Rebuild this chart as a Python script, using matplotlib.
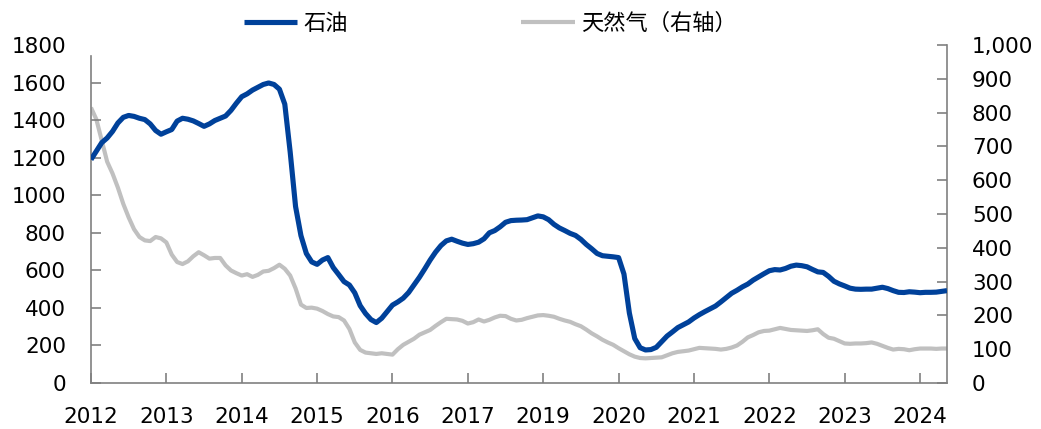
import numpy as np
import matplotlib
matplotlib.use("Agg")
import matplotlib.pyplot as plt
from matplotlib.ticker import FuncFormatter

## monthly rig counts, Jan 2012 onwards

oil = [1190, 1235, 1280, 1305, 1340, 1385, 1415, 1425, 1420, 1410,
       1403, 1380, 1345, 1325, 1338, 1350, 1395, 1410, 1405, 1396,
       1382, 1367, 1380, 1398, 1410, 1422, 1452, 1490, 1525, 1540,
       1560, 1575, 1590, 1598, 1590, 1565, 1485, 1230, 940, 785,
       690, 645, 632, 655, 668, 615, 578, 540, 522, 480,
       412, 370, 338, 322, 345, 380, 415, 432, 452, 482,
       522, 563, 608, 655, 697, 732, 757, 766, 755, 745,
       738, 742, 750, 768, 800, 812, 832, 856, 865, 867,
       868, 870, 880, 890, 885, 870, 845, 826, 812, 797,
       786, 765, 738, 715, 690, 678, 675, 672, 668, 580,
       373, 237, 188, 176, 178, 190, 220, 250, 272, 295,
       310, 325, 346, 364, 380, 395, 410, 432, 455, 478,
       494, 512, 527, 548, 565, 582, 598, 604, 602, 610,
       622, 628, 625, 619, 605, 592, 589, 568, 542, 528,
       517, 505, 500, 499, 500, 500, 505, 510, 503, 492,
       483, 482, 486, 484, 481, 483, 483, 484, 488, 492]

gas = [815, 780, 718, 655, 620, 578, 530, 490, 455, 432,
       422, 420, 432, 428, 416, 380, 358, 352, 360, 375,
       387, 378, 368, 370, 370, 348, 333, 325, 318, 322,
       314, 320, 330, 332, 340, 350, 338, 318, 280, 232,
       222, 223, 220, 213, 204, 197, 195, 185, 160, 120,
       98, 90, 88, 86, 88, 86, 84, 100, 113, 122,
       131, 143, 150, 157, 169, 180, 190, 189, 188, 184,
       176, 180, 188, 182, 187, 194, 199, 198, 190, 185,
       187, 192, 196, 200, 201, 199, 196, 190, 185, 181,
       174, 168, 158, 147, 138, 128, 120, 113, 103, 94,
       85, 78, 74, 73, 74, 75, 76, 82, 88, 92,
       94, 96, 100, 104, 103, 102, 101, 99, 101, 105,
       111, 122, 135, 142, 150, 154, 155, 159, 163, 160,
       157, 156, 155, 154, 156, 159, 145, 134, 131, 124,
       117, 116, 117, 117, 118, 120, 116, 110, 104, 99,
       101, 100, 97, 100, 102, 102, 102, 101, 102, 102]

# category axis labels, one every 14 months (as in the source chart)
tick_labels = ["2012", "2013", "2014", "2015", "2016", "2017",
               "2019", "2020", "2021", "2022", "2023", "2024"]

oil_color = "#00419a"
gas_color = "#c0c0c0"
axis_color = "#808080"

plt.rcParams["font.family"] = ["DejaVu Sans"]

fig = plt.figure(figsize=(10.41, 4.29), dpi=100)
ax = fig.add_axes([0.0874, 0.1072, 0.8223, 0.7878])
ax2 = ax.twinx()

x = np.arange(len(oil))
l1, = ax.plot(x, oil, color=oil_color, lw=3.7, solid_capstyle="butt", zorder=3)
l2, = ax2.plot(x, gas, color=gas_color, lw=3.0, solid_capstyle="butt", zorder=2)
ax.set_zorder(ax2.get_zorder() + 1)
ax.patch.set_visible(False)

ax.set_xlim(0, len(oil) - 1)
ax.set_xticks(np.arange(len(tick_labels)) * 14)
ax.set_xticklabels(tick_labels)

ax.set_ylim(0, 1800)
ax.set_yticks(np.arange(0, 1801, 200))
ax2.set_ylim(0, 1000)
ax2.set_yticks(np.arange(0, 1001, 100))
ax2.yaxis.set_major_formatter(FuncFormatter(lambda v, p: f"{int(v):,}"))

for a in (ax, ax2):
    for s in a.spines.values():
        s.set_color(axis_color)
        s.set_linewidth(1.2)
    a.spines["top"].set_visible(False)
    a.tick_params(direction="in", length=7, width=1.2, color=axis_color,
                  labelsize=15.5, labelcolor="black")
ax.spines["right"].set_visible(False)
ax2.spines["left"].set_visible(False)
ax2.spines["bottom"].set_visible(False)
ax.spines["left"].set_bounds(0, 1740)
ax.tick_params(axis="y", pad=18)
ax.tick_params(axis="x", pad=17)
ax2.tick_params(axis="y", pad=18)
ax.yaxis.get_major_ticks()[-1].tick1line.set_visible(False)

fig.legend([l1, l2], ["石油", "天然气（右轴）"], loc="center",
           bbox_to_anchor=(0.471, 0.946), ncol=2, frameon=False,
           prop={"family": ["Noto Sans CJK SC", "DejaVu Sans"], "size": 16},
           handlelength=2.4, handletextpad=0.28, columnspacing=7.8)

fig.savefig("out.png", dpi=100)
